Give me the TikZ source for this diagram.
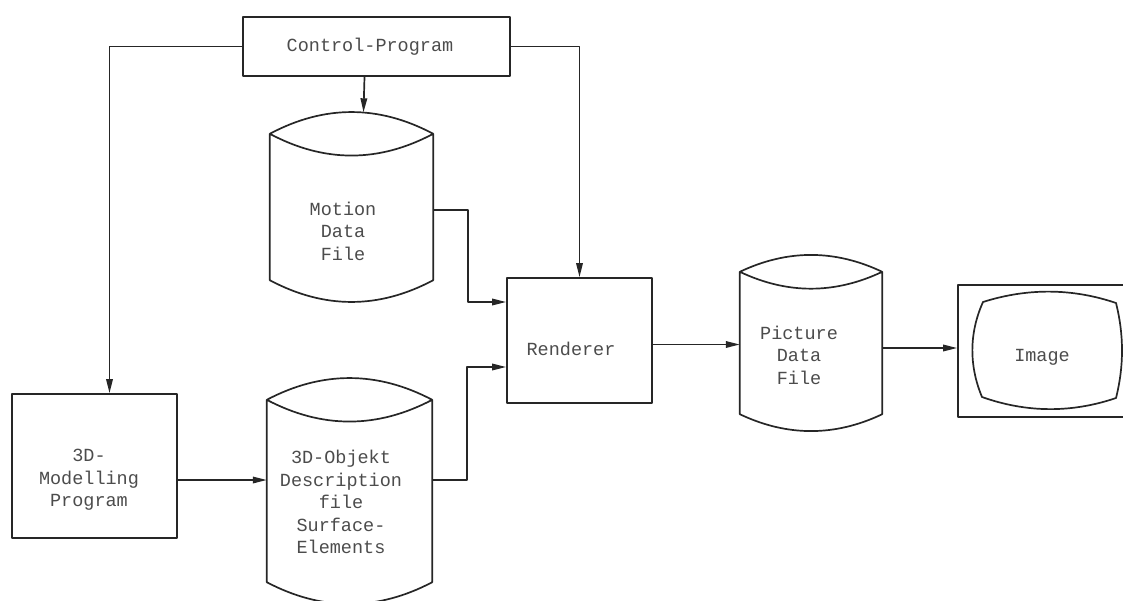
\documentclass[tikz,border=0pt]{standalone}
\usepackage{fontspec}
\setmonofont{Liberation Mono}
\usetikzlibrary{arrows.meta,calc}

% outline of a drum-shaped data store drawn round a body node
% #1 node name, #2 control offset of the lens-shaped top and the bottom arc
\newcommand\drumoutline[2]{%
  \draw[ln] let \p1=(#1.north west), \p2=(#1.north east),
      \p3=(#1.south west), \p4=(#1.south east), \n1={(\x2-\x1)/3} in
    (\p1) .. controls (\x1+\n1,\y1+#2) and (\x2-\n1,\y2+#2) .. (\p2)
          .. controls (\x2-\n1,\y2-#2) and (\x1+\n1,\y1-#2) .. (\p1)
    -- (\p3) .. controls (\x3+\n1,\y3-#2) and (\x4-\n1,\y4-#2) .. (\p4) -- (\p2);
}

\tikzset{
  ln/.style={draw=black!85, line width=1.7pt, line join=round},
  arr/.style={ln, -{Triangle[length=14pt,width=6.5pt]}},
  box/.style={ln, rectangle, inner sep=0pt},
  body/.style={rectangle, draw=none, inner sep=0pt},
  lbl/.style={text=black!70, align=center, inner sep=0pt,
    font=\ttfamily\fontsize{18.5}{22.5}\selectfont},
}

\begin{document}
\begin{tikzpicture}[x=1pt,y=-1pt]
\useasboundingbox (0,0) rectangle (1123,600);
\clip (0,0) rectangle (1123,600);

% process boxes
\node[box, minimum width=267pt, minimum height=59pt] (ctrl) at (376.5,46.5) {};
\node[lbl] (ctrltxt) at (370,47) {Control-Program};

\node[box, minimum width=165pt, minimum height=144pt] (model3d) at (94.5,466) {};
\node[lbl] (model3dtxt) at (89,480) {3D-\\Modelling\\Program};

\node[box, minimum width=145pt, minimum height=125pt] (renderer) at (579.5,340.5) {};
\node[lbl] (renderertxt) at (571,349) {Renderer};

% data stores
\node[body, minimum width=163pt, minimum height=146pt] (motion) at (351.5,207) {};
\drumoutline{motion}{29pt}
\node[lbl] (motiontxt) at (343,231) {Motion\\Data\\File};

\node[body, minimum width=165pt, minimum height=182pt] (objdesc) at (349.5,491) {};
\drumoutline{objdesc}{29pt}
\node[lbl] (objdesctxt) at (341,502) {3D-Objekt\\Description\\file\\Surface-\\Elements};

\node[body, minimum width=142pt, minimum height=142pt] (picture) at (811,343) {};
\drumoutline{picture}{22.5pt}
\node[lbl] (picturetxt) at (799,355) {Picture\\Data\\File};

% display with its screen
\node[box, minimum width=180pt, minimum height=132pt] (display) at (1048,351) {};
\draw[ln] (983,302) .. controls (1027,288) and (1072,288) .. (1116,303)
  .. controls (1124,335) and (1124,366) .. (1116,398)
  .. controls (1072,413) and (1027,413) .. (982,397)
  .. controls (969,366) and (969,333) .. (983,302) -- cycle;
\node[lbl] (imagetxt) at (1042,357) {Image};

% control flow
\draw[arr] (ctrl.west) -| ($(model3d.north)+(15,0)$);
\draw[arr] ($(ctrl.south)+(-12,0)$) -- ($(motion.north)+(12,-21.5)$);
\draw[arr] (ctrl.east) -| (renderer.north);

% data flow
\draw[arr] ($(motion.east)+(0,3)$) -- ++(35,0) |- ($(renderer.west)+(0,-38.5)$);
\draw[arr] ($(objdesc.east)+(0,-11)$) -- ++(35,0) |- ($(renderer.west)+(0,26.5)$);
\draw[arr] ($(model3d.east)+(0,14)$) coordinate (m3out) -- (m3out -| objdesc.west);
\draw[arr] ($(renderer.east)+(0,4)$) coordinate (rout) -- (rout -| picture.west);
\draw[arr] ($(picture.east)+(0,5)$) coordinate (pout) -- (pout -| display.west);
\end{tikzpicture}
\end{document}
